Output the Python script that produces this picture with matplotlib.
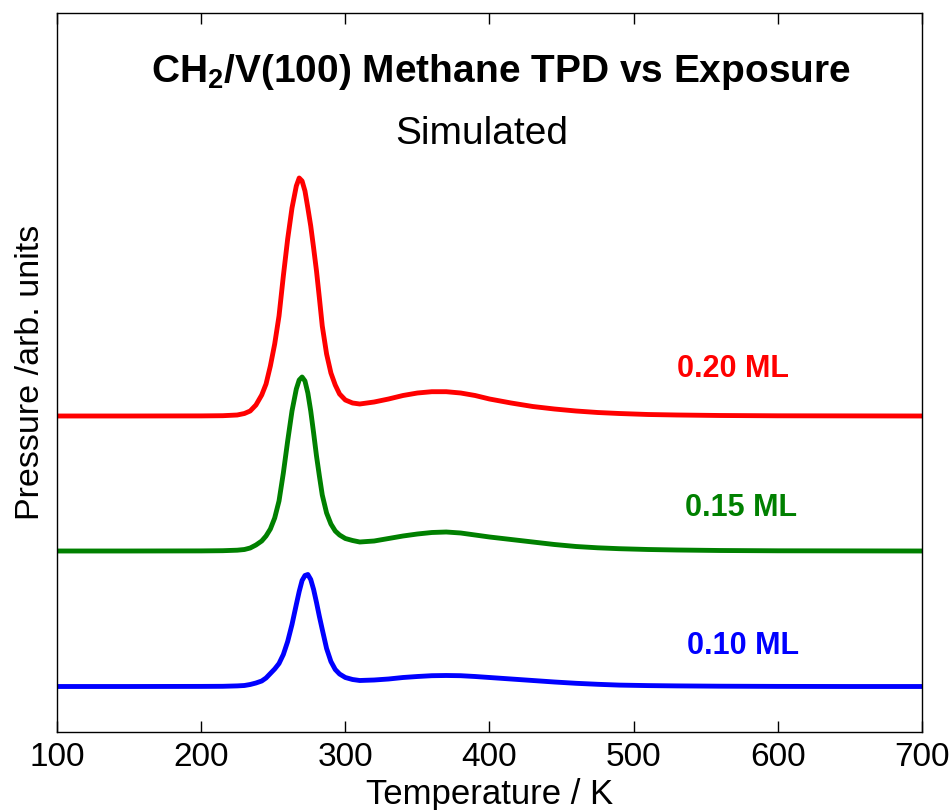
import matplotlib
matplotlib.use("Agg")
import matplotlib.pyplot as plt

plt.rcParams['font.family'] = ['Liberation Sans', 'DejaVu Sans']
plt.rcParams['mathtext.fontset'] = 'custom'
plt.rcParams['mathtext.rm'] = 'Liberation Sans'
plt.rcParams['mathtext.bf'] = 'Liberation Sans:bold'

# Temperature grid (K)
temperature = [100, 150, 200, 215, 225, 230, 234, 238, 242, 245, 248, 251, 254, 257,
               260, 263, 266, 268, 270, 272, 274, 276, 278, 280, 282, 284, 287, 290,
               293, 296, 300, 305, 310, 320, 330, 340, 350, 360, 370, 380, 390, 400,
               415, 430, 445, 460, 475, 490, 510, 530, 560, 600, 650, 700]

# Simulated methane desorption signal (arb. units) for each exposure
signal_020 = [0, 0, 0.1, 0.3, 1, 2.5, 5, 11, 21, 32, 50, 72, 100, 140,
              177, 208, 230, 238, 235, 225, 208, 190, 168, 145, 118, 90, 62, 43,
              31, 22, 16, 13, 12, 14, 17, 20.5, 23, 24.3, 24.3, 23, 20.5, 17,
              13, 9.5, 7, 5, 3.5, 2.5, 1.5, 1, 0.5, 0.2, 0.1, 0]
signal_015 = [0, 0, 0.1, 0.3, 0.8, 1.5, 3, 6, 10, 15, 22, 33, 50, 78,
              110, 140, 162, 171, 174, 170, 158, 140, 118, 95, 75, 56, 38, 27,
              20, 16, 12.5, 10.5, 9, 10, 12.5, 15, 17, 18.5, 19, 18, 16, 14,
              11.5, 9, 6.5, 4.5, 3.2, 2.3, 1.5, 1, 0.5, 0.2, 0.1, 0]
signal_010 = [0, 0, 0.1, 0.2, 0.6, 1, 2, 3.5, 5.5, 8.5, 13, 17.5, 23, 32,
              45, 62, 82, 95, 106, 111, 112, 107, 97, 84, 70, 57, 38, 25,
              17, 12.5, 9, 7, 6, 6.5, 7.5, 9, 10, 10.8, 11, 10.8, 10, 9,
              7.5, 6, 4.5, 3.2, 2.2, 1.4, 0.9, 0.6, 0.3, 0.1, 0, 0]

# Vertical offsets used to stack the traces
offset_020 = 316
offset_015 = 181
offset_010 = 45.5

labels = ['0.20 ML', '0.15 ML', '0.10 ML']
colors = ['#ff0000', '#008000', '#0000ff']

fig = plt.figure(figsize=(9.53, 8.10), dpi=100)
ax = fig.add_axes([57 / 953, 1 - 732 / 810, (922 - 57) / 953, (732 - 13) / 810])

series = [(signal_020, offset_020), (signal_015, offset_015), (signal_010, offset_010)]
for (sig, off), col in zip(series, colors):
    ax.plot(temperature, [off + v for v in sig], color=col, lw=3.5,
            solid_joinstyle='round', solid_capstyle='butt')

# Exposure labels next to each trace
label_pos = [(569, 363), (574.5, 224), (576, 86)]
for text, col, (tx, ty) in zip(labels, colors, label_pos):
    ax.text(tx, ty, text, color=col, fontsize=22, fontweight='bold',
            ha='center', va='center')

ax.set_xlim(100, 700)
ax.set_ylim(0, 719)
ax.set_xticks([100, 200, 300, 400, 500, 600, 700])
ax.set_yticks([])
ax.tick_params(axis='x', direction='in', length=8, width=1, top=True,
               labelsize=24, pad=7)
for s in ax.spines.values():
    s.set_linewidth(1.0)

ax.set_xlabel('Temperature / K', fontsize=25, labelpad=4)
ax.set_ylabel('Pressure /arb. units', fontsize=24.5, labelpad=8)

fig.text(501 / 953, 1 - 82 / 810,
         r'CH$_{\mathbf{2}}$/V(100) Methane TPD vs Exposure',
         fontsize=28, fontweight='bold', ha='center', va='baseline')
fig.text(482 / 953, 1 - 144 / 810, 'Simulated', fontsize=28,
         ha='center', va='baseline')

fig.savefig('out.png', dpi=100)
